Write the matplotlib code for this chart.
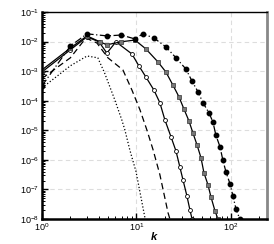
import numpy as np
import matplotlib
matplotlib.use('Agg')
import matplotlib.pyplot as plt

plt.rcParams['font.family'] = ['Liberation Sans', 'DejaVu Sans']
plt.rcParams['mathtext.default'] = 'regular'

# spectra (k, log10 E)
k_dot = [1, 2, 3, 3.9, 4.6, 5.9, 7.0, 7.55, 8.5, 9.9, 12.3]
e_dot = [-3.57, -2.82, -2.49, -2.55, -3.06, -3.97, -4.65, -4.99, -5.66, -6.4, -7.96]

k_dash = [1, 2, 2.92, 3.82, 4.99, 7.19, 8.96, 10.9, 12.9, 15.0, 17.7, 21.6, 22.6]
e_dash = [-3.25, -2.55, -1.88, -2.05, -2.55, -2.96, -3.64, -4.31, -4.99, -5.66, -6.5, -7.79, -8.0]

k_circ = [1, 2, 3, 4.01, 4.87, 6.07, 8.96, 10.6, 12.6, 15.3, 17.7, 20.0, 23.2, 26.2, 28.8, 31.1, 34.2, 36.8, 38.7]
e_circ = [-3.03, -2.28, -1.84, -2.01, -2.39, -2.01, -2.42, -2.82, -3.20, -3.64, -4.07, -4.65, -5.22, -5.70, -6.24, -6.68, -7.22, -7.69, -7.99]

k_sq = [1, 2, 3, 4.11, 4.87, 6.85, 9.64, 12.6, 16.9, 20.5, 24.3, 28.2, 31.8, 35.9, 39.6, 43.7, 48.2, 51.8, 57.1, 61.4, 67.7, 72.8]
e_sq = [-2.96, -2.22, -1.81, -2.01, -2.11, -2.01, -1.95, -2.25, -2.69, -3.03, -3.47, -3.87, -4.28, -4.68, -5.09, -5.49, -5.93, -6.44, -6.84, -7.25, -7.72, -8.0]

k_fill = [1, 2, 3, 4.9, 6.9, 9.6, 11.7, 15.3, 20.5, 26.2, 33.4, 38.6, 44.8, 50.6, 58.5, 64.5, 69.2, 76.6, 82.0, 88.6, 97.7, 105, 113, 124]
e_fill = [-3.5, -2.15, -1.74, -1.81, -1.78, -1.91, -1.74, -1.88, -2.18, -2.55, -2.93, -3.33, -3.70, -4.07, -4.41, -4.72, -5.16, -5.56, -6.0, -6.41, -6.81, -7.22, -7.66, -8.0]

fig = plt.figure(figsize=(2.74, 2.44), dpi=100)
ax = fig.add_axes([0.153, 0.1025, 0.821, 0.8485])

ax.plot(k_dot, 10**np.array(e_dot), color='black', linestyle=':', linewidth=0.9)
ax.plot(k_dash, 10**np.array(e_dash), color='black', linestyle=(0, (5, 3)), linewidth=0.9)
ax.plot(k_circ, 10**np.array(e_circ), color='black', linestyle='-', linewidth=0.9,
        marker='o', markersize=2.8, markerfacecolor='white', markeredgecolor='black', markeredgewidth=0.6)
ax.plot(k_sq, 10**np.array(e_sq), color='black', linestyle='-', linewidth=0.9,
        marker='s', markersize=2.8, markerfacecolor='#777777', markeredgecolor='#333333', markeredgewidth=0.5)
ax.plot(k_fill, 10**np.array(e_fill), color='black', linestyle=(0, (6, 2, 1, 2)), linewidth=0.9,
        marker='o', markersize=3.2, markerfacecolor='black', markeredgecolor='black')

ax.set_xscale('log')
ax.set_yscale('log')
ax.set_xlim(1, 240)
ax.set_ylim(1e-8, 1e-1)

ax.grid(True, which='major', color='#dddddd', linestyle=(0, (4, 3)), linewidth=0.8)
ax.set_axisbelow(True)

ax.tick_params(which='both', direction='in', top=False, right=False, labelsize=6.5, pad=2)
ax.tick_params(which='major', length=4, width=1)
ax.tick_params(which='minor', length=2, width=0.7)
ax.yaxis.set_minor_locator(matplotlib.ticker.LogLocator(base=10, subs=np.arange(2, 10) * 1.0, numticks=20))
ax.yaxis.set_minor_formatter(matplotlib.ticker.NullFormatter())
ax.xaxis.set_minor_formatter(matplotlib.ticker.NullFormatter())

for s in ['left', 'bottom']:
    ax.spines[s].set_linewidth(1.8)
ax.spines['top'].set_linewidth(1.0)
ax.spines['right'].set_linewidth(2.0)
ax.spines['right'].set_color('#888888')

ax.set_xlabel('k', fontsize=8, fontstyle='italic', fontweight='bold')
ax.xaxis.set_label_coords(0.5, -0.065)

fig.savefig('out.png', dpi=100)
